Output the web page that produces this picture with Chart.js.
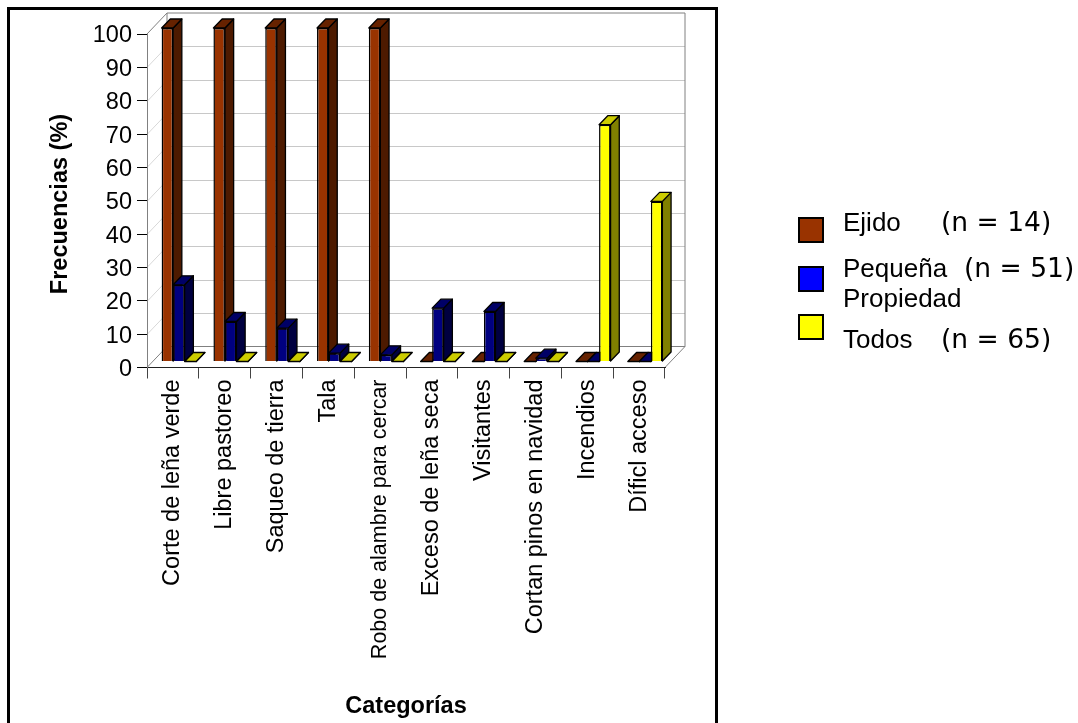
<!DOCTYPE html>
<html>
<head>
<meta charset="utf-8">
<title>Frecuencias por categoría</title>
<script src="https://cdn.jsdelivr.net/npm/chart.js@4"></script>
<style>
  html, body { margin: 0; padding: 0; background: #fff; }
  canvas { display: block; }
</style>
</head>
<body>
<canvas id="chart-frecuencias" width="1078" height="723"></canvas>
<script>
const categorias = ['Corte de leña verde', 'Libre pastoreo', 'Saqueo de tierra', 'Tala',
  'Robo de alambre para cercar', 'Exceso de leña seca', 'Visitantes',
  'Cortan pinos en navidad', 'Incendios', 'Díficl acceso'];
const ejido = [100, 100, 100, 100, 100, 0, 0, 0, 0, 0];
const pequena = [23, 12, 10, 2.5, 2, 16, 15, 1, 0, 0];
const todos = [0, 0, 0, 0, 0, 0, 0, 0, 71, 48];
const yTicks = [0, 10, 20, 30, 40, 50, 60, 70, 80, 90, 100];

// textos y colores de la leyenda
const leyendaNombres = ['Ejido', 'Pequeña', 'Todos'];
const leyendaN = ['(n = 14)', '(n = 51)', '(n = 65)'];
const leyendaColores = ['#993300', '#0000ff', '#ffff00'];

// caras laterales y superiores de cada serie
const caras = [
  { lado: '#4d1a00', tope: '#662200' },
  { lado: '#000040', tope: '#000066' },
  { lado: '#808000', tope: '#cccc00' }
];

const FONDO_DX = 20, FONDO_DY = 21;   // profundidad de la caja
const BARRA_DX = 8.7, BARRA_DY = 9;   // profundidad de cada barra
const DESP_X = 6, DESP_Y = 6;         // las barras van a media caja
const FUENTE = '"Liberation Sans"';

// marco negro y paredes de la caja
const paredes = {
  id: 'paredes',
  beforeDraw(chart) {
    const { ctx, chartArea: a, scales: { y } } = chart;
    ctx.save();
    ctx.strokeStyle = '#000';
    ctx.lineWidth = 3;
    ctx.beginPath();
    ctx.moveTo(8.5, 740);
    ctx.lineTo(8.5, 8.5);
    ctx.lineTo(716.5, 8.5);
    ctx.lineTo(716.5, 740);
    ctx.stroke();

    ctx.lineWidth = 1;
    yTicks.slice(1, -1).forEach(v => {
      const py = Math.round(y.getPixelForValue(v)) + 0.5;
      ctx.strokeStyle = '#d8d8d8';
      ctx.beginPath();
      ctx.moveTo(a.left, py);
      ctx.lineTo(a.left + FONDO_DX, py - FONDO_DY);
      ctx.stroke();
      ctx.strokeStyle = '#c8c8c8';
      ctx.beginPath();
      ctx.moveTo(a.left + FONDO_DX, py - FONDO_DY);
      ctx.lineTo(a.right + FONDO_DX, py - FONDO_DY);
      ctx.stroke();
    });

    ctx.strokeStyle = '#808080';
    ctx.beginPath();
    ctx.moveTo(a.left, a.top);
    ctx.lineTo(a.left + FONDO_DX, a.top - FONDO_DY);
    ctx.lineTo(a.right + FONDO_DX, a.top - FONDO_DY);
    ctx.lineTo(a.right + FONDO_DX, a.bottom - FONDO_DY);
    ctx.lineTo(a.right, a.bottom);
    ctx.moveTo(a.left + FONDO_DX, a.top - FONDO_DY);
    ctx.lineTo(a.left + FONDO_DX, a.bottom - FONDO_DY);
    ctx.lineTo(a.right + FONDO_DX, a.bottom - FONDO_DY);
    ctx.moveTo(a.left + FONDO_DX, a.bottom - FONDO_DY);
    ctx.lineTo(a.left, a.bottom);
    ctx.stroke();
    ctx.restore();
  }
};

// las series se pintan de izquierda a derecha, corridas hacia el fondo,
// y a cada barra se le agregan lado y tope
const barras3d = {
  id: 'barras3d',
  beforeDatasetDraw() {
    return false;
  },
  afterDatasetsDraw(chart) {
    const ctx = chart.ctx;
    ctx.save();
    ctx.translate(DESP_X, -DESP_Y);
    chart.getSortedVisibleDatasetMetas().forEach(meta => {
      meta.controller.draw();
      const c = caras[meta.index];
      ctx.lineWidth = 1.3;
      ctx.strokeStyle = '#000';
      ctx.lineJoin = 'round';
      meta.data.forEach(bar => {
        const izq = bar.x - bar.width / 2, der = bar.x + bar.width / 2;
        const arriba = bar.y, abajo = bar.base;
        ctx.fillStyle = c.lado;
        ctx.beginPath();
        ctx.moveTo(der, arriba);
        ctx.lineTo(der + BARRA_DX, arriba - BARRA_DY);
        ctx.lineTo(der + BARRA_DX, abajo - BARRA_DY);
        ctx.lineTo(der, abajo);
        ctx.closePath();
        ctx.fill();
        ctx.stroke();
        ctx.fillStyle = c.tope;
        ctx.beginPath();
        ctx.moveTo(izq, arriba);
        ctx.lineTo(izq + BARRA_DX, arriba - BARRA_DY);
        ctx.lineTo(der + BARRA_DX, arriba - BARRA_DY);
        ctx.lineTo(der, arriba);
        ctx.closePath();
        ctx.fill();
        ctx.stroke();
      });
    });
    ctx.restore();
  }
};

// leyenda a la derecha del marco
const leyenda = {
  id: 'leyenda',
  afterDraw(chart) {
    const ctx = chart.ctx;
    const cuadros = [217, 266, 314];
    const nombresY = [231, 277, 348];
    const nX = [941, 964, 941];
    ctx.save();
    ctx.textBaseline = 'alphabetic';
    ctx.textAlign = 'left';
    leyendaNombres.forEach((nombre, i) => {
      ctx.fillStyle = leyendaColores[i];
      ctx.fillRect(799, cuadros[i] + 1, 24, 24);
      ctx.strokeStyle = '#000';
      ctx.lineWidth = 2;
      ctx.strokeRect(799, cuadros[i] + 1, 24, 24);
      ctx.fillStyle = '#000';
      ctx.font = '26px ' + FUENTE;
      ctx.fillText(nombre, 843, nombresY[i]);
      ctx.font = '26.5px "DejaVu Sans"';
      ctx.fillText(leyendaN[i], nX[i], nombresY[i]);
    });
    ctx.font = '26px ' + FUENTE;
    ctx.fillText('Propiedad', 843, 307);
    ctx.restore();
  }
};

new Chart(document.getElementById('chart-frecuencias').getContext('2d'), {
  type: 'bar',
  data: {
    labels: categorias,
    datasets: [
      { label: 'Ejido', data: ejido, backgroundColor: '#993300' },
      { label: 'Pequeña Propiedad', data: pequena, backgroundColor: '#000080' },
      { label: 'Todos', data: todos, backgroundColor: '#ffff00' }
    ]
  },
  options: {
    responsive: false,
    animation: false,
    layout: { padding: { left: 46, top: 34, right: 413, bottom: 2 } },
    datasets: {
      bar: {
        borderColor: '#000',
        borderWidth: 1.5,
        categoryPercentage: 0.667,
        barPercentage: 1
      }
    },
    plugins: { legend: { display: false }, tooltip: { enabled: false }, title: { display: false } },
    scales: {
      x: {
        afterFit: s => { s.height = 353.5; },
        grid: { offset: true, drawOnChartArea: false, color: '#444', tickLength: 11 },
        border: { color: '#222' },
        ticks: {
          autoSkip: false, minRotation: 90, maxRotation: 90, padding: 1,
          color: '#000',
          // la etiqueta larga va un poco más angosta
          font: c => ({ family: FUENTE, size: c.index === 4 ? 21.5 : 23.5 })
        },
        title: {
          display: true, text: 'Categorías', color: '#000',
          font: { family: FUENTE, size: 23.5, weight: 'bold' },
          padding: { top: 0, bottom: 0 }
        }
      },
      y: {
        min: 0, max: 100,
        afterFit: s => { s.width = 101; },
        afterBuildTicks: s => { s.ticks = yTicks.map(v => ({ value: v })); },
        grid: { drawOnChartArea: false, color: '#000', tickLength: 10 },
        border: { color: '#808080' },
        ticks: { padding: 5, labelOffset: 2, color: '#000', font: { family: FUENTE, size: 23.5 } },
        title: {
          display: true, text: 'Frecuencias (%) ', color: '#000',
          font: { family: FUENTE, size: 23.5, weight: 'bold' },
          padding: { top: 0, bottom: 0 }
        }
      }
    }
  },
  plugins: [paredes, barras3d, leyenda]
});
</script>
</body>
</html>
